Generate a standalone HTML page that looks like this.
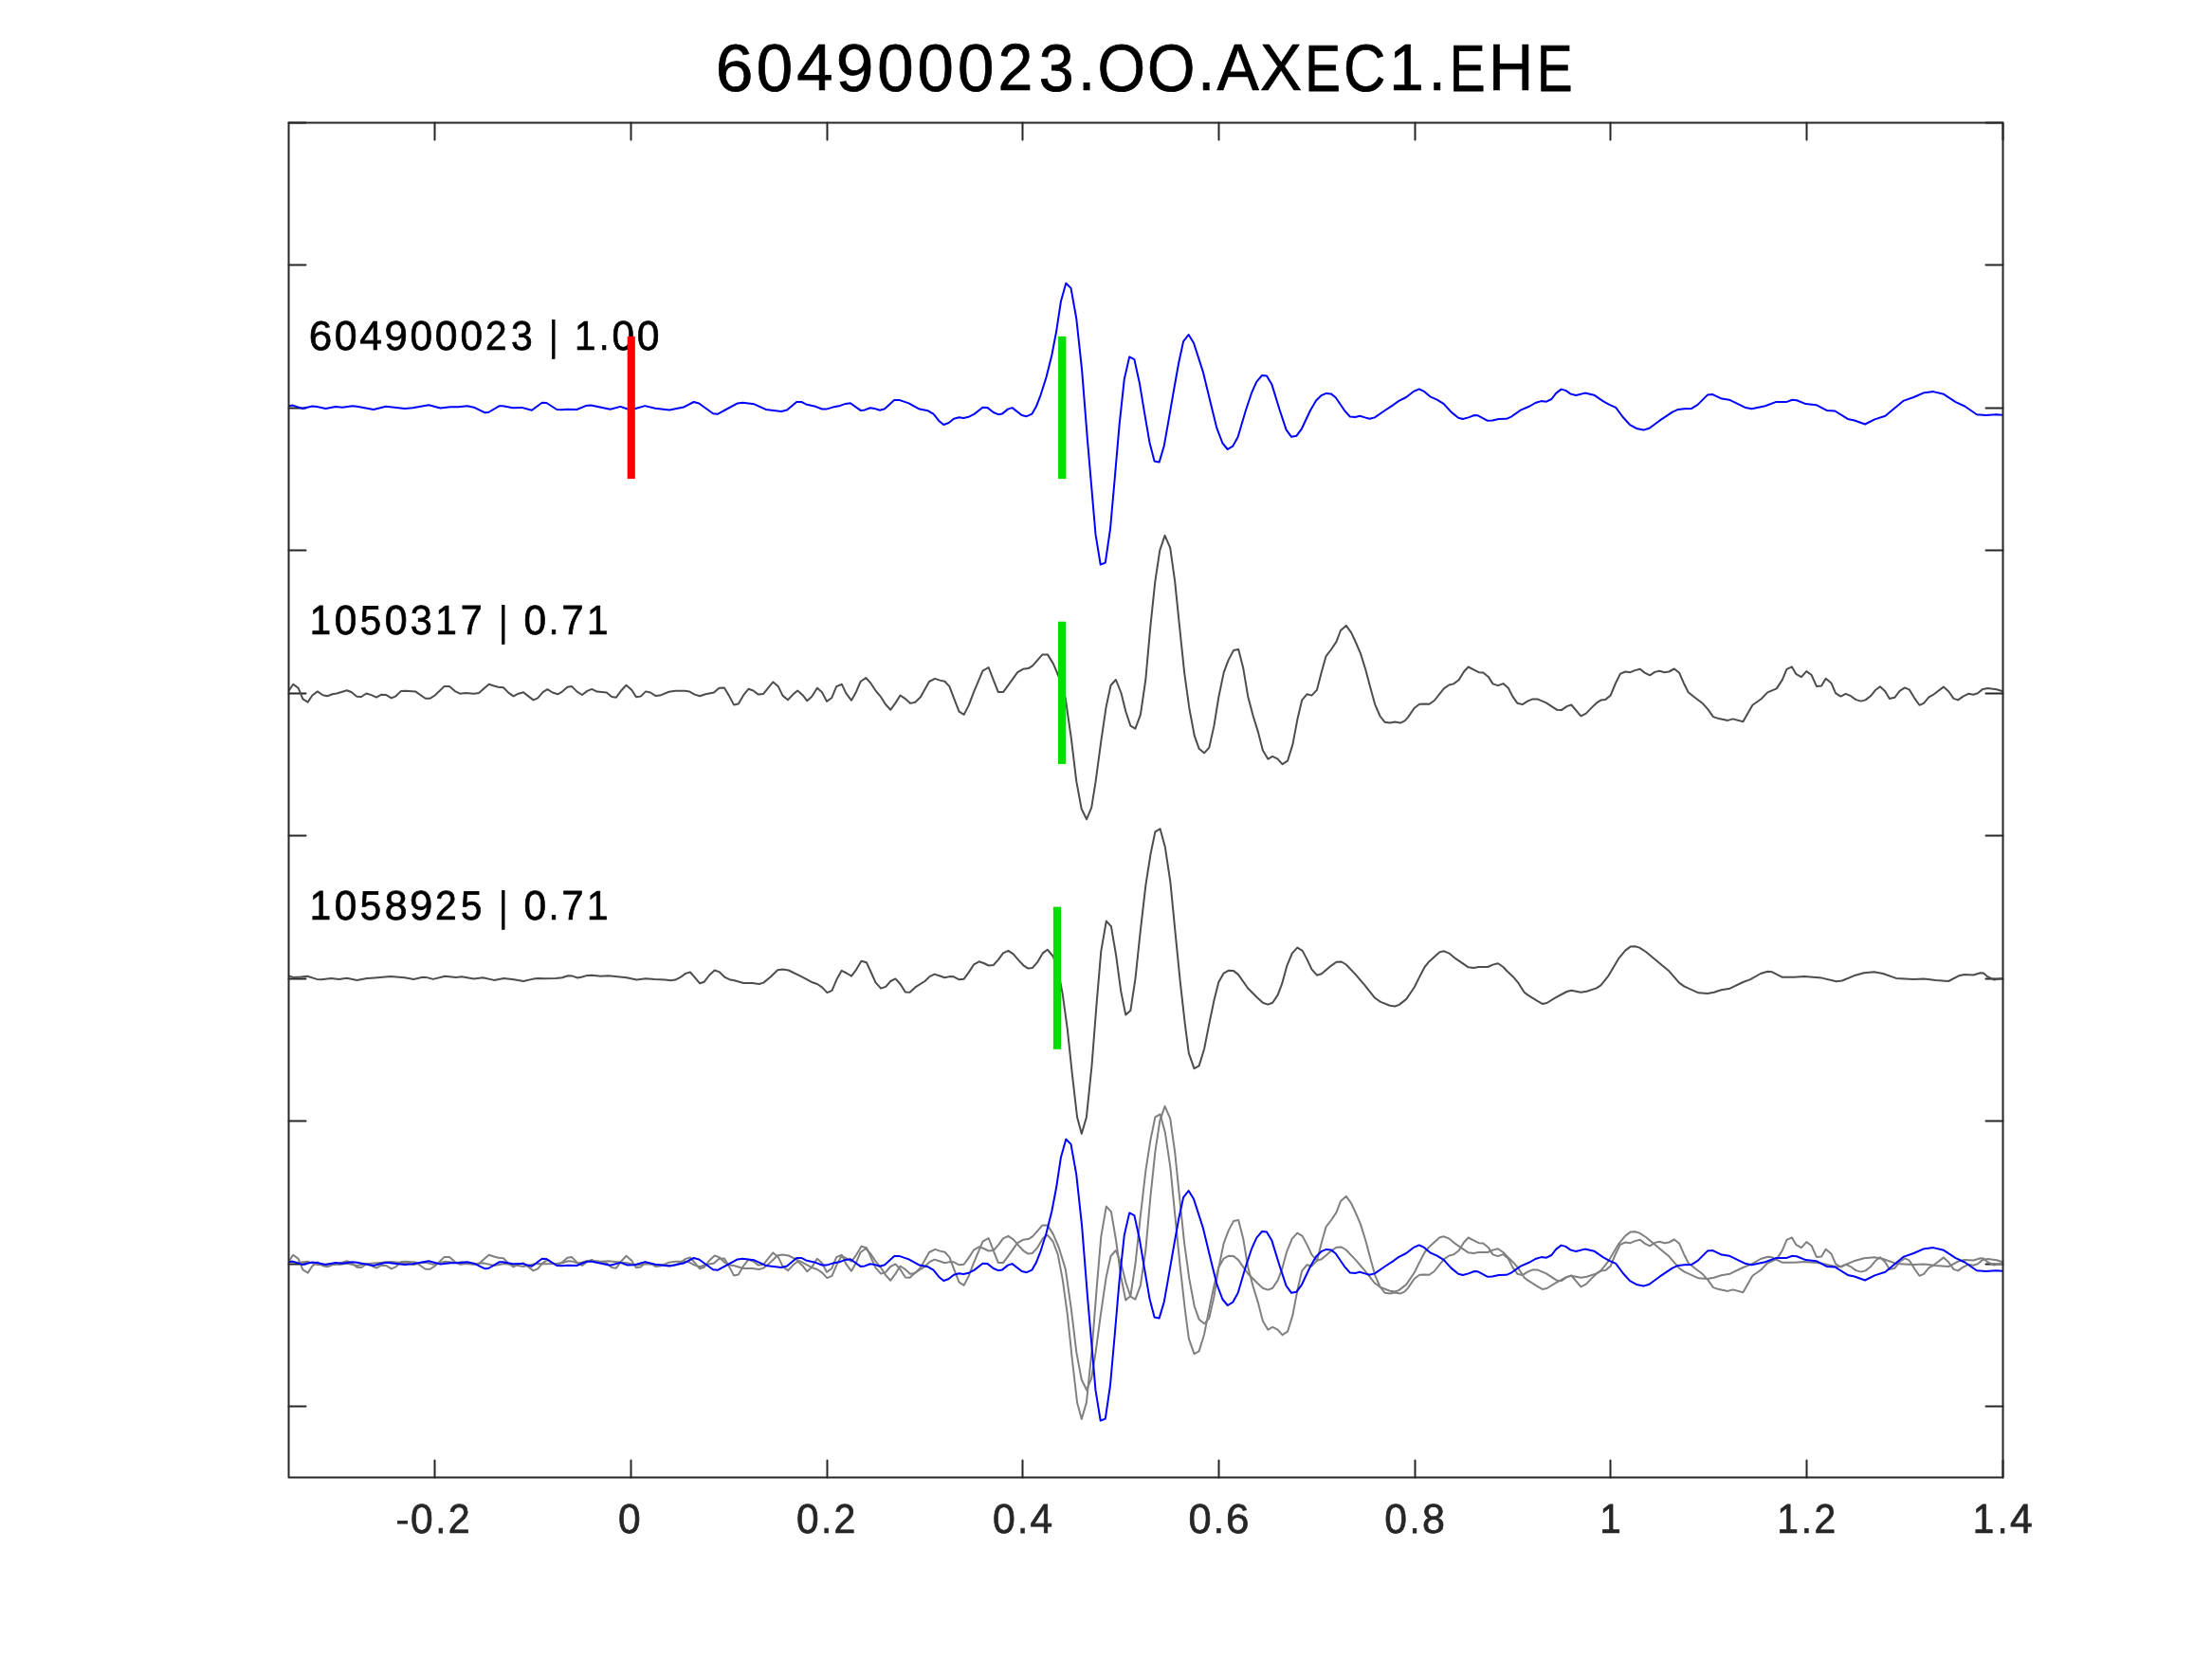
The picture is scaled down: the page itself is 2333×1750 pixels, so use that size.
<!DOCTYPE html><html><head><meta charset="utf-8"><style>html,body{margin:0;padding:0;background:#fff;width:2333px;height:1750px;overflow:hidden}text{font-family:"Liberation Sans",sans-serif}svg{will-change:transform}</style></head><body><svg width="2333" height="1750" viewBox="0 0 2333 1750" style="position:absolute;left:0;top:0">
<rect width="2333" height="1750" fill="#fff"/>
<g style="font-family:'Liberation Sans',sans-serif"><text text-rendering="geometricPrecision" transform="translate(754.69,96.00) scale(0.7138,0.7041)" font-size="100" fill="#000" stroke="#000" stroke-width="0.987">6</text><text text-rendering="geometricPrecision" transform="translate(797.74,96.00) scale(0.6900,0.7059)" font-size="100" fill="#000" stroke="#000" stroke-width="1.003">0</text><text text-rendering="geometricPrecision" transform="translate(840.30,95.20) scale(0.6878,0.6972)" font-size="100" fill="#000" stroke="#000" stroke-width="1.011">4</text><text text-rendering="geometricPrecision" transform="translate(881.63,96.02) scale(0.7142,0.7059)" font-size="100" fill="#000" stroke="#000" stroke-width="0.986">9</text><text text-rendering="geometricPrecision" transform="translate(925.13,96.00) scale(0.6891,0.7041)" font-size="100" fill="#000" stroke="#000" stroke-width="1.005">0</text><text text-rendering="geometricPrecision" transform="translate(967.42,96.00) scale(0.6897,0.7043)" font-size="100" fill="#000" stroke="#000" stroke-width="1.004">0</text><text text-rendering="geometricPrecision" transform="translate(1010.06,96.01) scale(0.6898,0.7058)" font-size="100" fill="#000" stroke="#000" stroke-width="1.003">0</text><text text-rendering="geometricPrecision" transform="translate(1052.38,95.20) scale(0.6618,0.6996)" font-size="100" fill="#000" stroke="#000" stroke-width="1.028">2</text><text text-rendering="geometricPrecision" transform="translate(1095.69,95.90) scale(0.6639,0.7026)" font-size="100" fill="#000" stroke="#000" stroke-width="1.024">3</text><text text-rendering="geometricPrecision" transform="translate(1136.90,95.22) scale(0.6503,0.7161)" font-size="100" fill="#000" stroke="#000" stroke-width="1.025">.</text><text text-rendering="geometricPrecision" transform="translate(1157.48,95.87) scale(0.6502,0.7022)" font-size="100" fill="#000" stroke="#000" stroke-width="1.035">O</text><text text-rendering="geometricPrecision" transform="translate(1210.05,95.88) scale(0.6499,0.7021)" font-size="100" fill="#000" stroke="#000" stroke-width="1.036">O</text><text text-rendering="geometricPrecision" transform="translate(1263.13,95.22) scale(0.6427,0.7175)" font-size="100" fill="#000" stroke="#000" stroke-width="1.029">.</text><text text-rendering="geometricPrecision" transform="translate(1283.45,95.20) scale(0.6645,0.6974)" font-size="100" fill="#000" stroke="#000" stroke-width="1.028">A</text><text text-rendering="geometricPrecision" transform="translate(1328.93,95.20) scale(0.6602,0.6973)" font-size="100" fill="#000" stroke="#000" stroke-width="1.031">X</text><text text-rendering="geometricPrecision" transform="translate(1376.37,95.73) scale(0.5655,0.6941)" font-size="100" fill="#000" stroke="#000" stroke-width="1.111">E</text><text text-rendering="geometricPrecision" transform="translate(1416.91,95.88) scale(0.6144,0.7024)" font-size="100" fill="#000" stroke="#000" stroke-width="1.063">C</text><text text-rendering="geometricPrecision" transform="translate(1465.30,95.20) scale(0.6557,0.6973)" font-size="100" fill="#000" stroke="#000" stroke-width="1.035">1</text><text text-rendering="geometricPrecision" transform="translate(1506.76,95.22) scale(0.6503,0.7161)" font-size="100" fill="#000" stroke="#000" stroke-width="1.025">.</text><text text-rendering="geometricPrecision" transform="translate(1528.71,95.73) scale(0.5669,0.6939)" font-size="100" fill="#000" stroke="#000" stroke-width="1.110">E</text><text text-rendering="geometricPrecision" transform="translate(1569.98,95.20) scale(0.6544,0.6973)" font-size="100" fill="#000" stroke="#000" stroke-width="1.036">H</text><text text-rendering="geometricPrecision" transform="translate(1621.00,95.73) scale(0.5636,0.6940)" font-size="100" fill="#000" stroke="#000" stroke-width="1.113">E</text><text text-rendering="geometricPrecision" transform="translate(325.80,368.66) scale(0.4400,0.4329)" font-size="100" fill="#000" stroke="#000" stroke-width="1.604">6</text><text text-rendering="geometricPrecision" transform="translate(352.76,368.66) scale(0.4275,0.4336)" font-size="100" fill="#000" stroke="#000" stroke-width="1.626">0</text><text text-rendering="geometricPrecision" transform="translate(379.14,368.50) scale(0.4268,0.4348)" font-size="100" fill="#000" stroke="#000" stroke-width="1.625">4</text><text text-rendering="geometricPrecision" transform="translate(405.38,368.66) scale(0.4385,0.4338)" font-size="100" fill="#000" stroke="#000" stroke-width="1.605">9</text><text text-rendering="geometricPrecision" transform="translate(432.48,368.69) scale(0.4246,0.4343)" font-size="100" fill="#000" stroke="#000" stroke-width="1.630">0</text><text text-rendering="geometricPrecision" transform="translate(458.87,368.66) scale(0.4271,0.4336)" font-size="100" fill="#000" stroke="#000" stroke-width="1.627">0</text><text text-rendering="geometricPrecision" transform="translate(485.38,368.67) scale(0.4252,0.4338)" font-size="100" fill="#000" stroke="#000" stroke-width="1.630">0</text><text text-rendering="geometricPrecision" transform="translate(512.03,368.50) scale(0.4056,0.4341)" font-size="100" fill="#000" stroke="#000" stroke-width="1.667">2</text><text text-rendering="geometricPrecision" transform="translate(538.96,368.68) scale(0.4091,0.4334)" font-size="100" fill="#000" stroke="#000" stroke-width="1.662">3</text><text text-rendering="geometricPrecision" transform="translate(579.33,368.59) scale(0.3436,0.4371)" font-size="100" fill="#000" stroke="#000" stroke-width="1.793">|</text><text text-rendering="geometricPrecision" transform="translate(606.04,368.50) scale(0.4031,0.4346)" font-size="100" fill="#000" stroke="#000" stroke-width="1.671">1</text><text text-rendering="geometricPrecision" transform="translate(631.93,368.52) scale(0.3729,0.4311)" font-size="100" fill="#000" stroke="#000" stroke-width="1.741">.</text><text text-rendering="geometricPrecision" transform="translate(645.48,368.69) scale(0.4246,0.4343)" font-size="100" fill="#000" stroke="#000" stroke-width="1.630">0</text><text text-rendering="geometricPrecision" transform="translate(671.86,368.66) scale(0.4271,0.4336)" font-size="100" fill="#000" stroke="#000" stroke-width="1.627">0</text><text text-rendering="geometricPrecision" transform="translate(326.80,669.20) scale(0.4025,0.4362)" font-size="100" fill="#000" stroke="#000" stroke-width="1.669">1</text><text text-rendering="geometricPrecision" transform="translate(352.74,669.37) scale(0.4241,0.4335)" font-size="100" fill="#000" stroke="#000" stroke-width="1.632">0</text><text text-rendering="geometricPrecision" transform="translate(379.63,669.37) scale(0.4024,0.4318)" font-size="100" fill="#000" stroke="#000" stroke-width="1.678">5</text><text text-rendering="geometricPrecision" transform="translate(405.71,669.36) scale(0.4298,0.4333)" font-size="100" fill="#000" stroke="#000" stroke-width="1.622">0</text><text text-rendering="geometricPrecision" transform="translate(432.73,669.39) scale(0.4150,0.4345)" font-size="100" fill="#000" stroke="#000" stroke-width="1.648">3</text><text text-rendering="geometricPrecision" transform="translate(459.26,669.20) scale(0.4065,0.4357)" font-size="100" fill="#000" stroke="#000" stroke-width="1.662">1</text><text text-rendering="geometricPrecision" transform="translate(485.68,669.20) scale(0.4138,0.4363)" font-size="100" fill="#000" stroke="#000" stroke-width="1.647">7</text><text text-rendering="geometricPrecision" transform="translate(526.30,670.30) scale(0.3452,0.4366)" font-size="100" fill="#000" stroke="#000" stroke-width="1.791">|</text><text text-rendering="geometricPrecision" transform="translate(552.54,669.38) scale(0.4248,0.4335)" font-size="100" fill="#000" stroke="#000" stroke-width="1.631">0</text><text text-rendering="geometricPrecision" transform="translate(578.81,669.24) scale(0.3813,0.4285)" font-size="100" fill="#000" stroke="#000" stroke-width="1.729">.</text><text text-rendering="geometricPrecision" transform="translate(592.46,669.20) scale(0.4138,0.4363)" font-size="100" fill="#000" stroke="#000" stroke-width="1.647">7</text><text text-rendering="geometricPrecision" transform="translate(618.93,669.20) scale(0.4065,0.4357)" font-size="100" fill="#000" stroke="#000" stroke-width="1.662">1</text><text text-rendering="geometricPrecision" transform="translate(326.80,970.20) scale(0.4025,0.4362)" font-size="100" fill="#000" stroke="#000" stroke-width="1.669">1</text><text text-rendering="geometricPrecision" transform="translate(352.74,970.37) scale(0.4241,0.4335)" font-size="100" fill="#000" stroke="#000" stroke-width="1.632">0</text><text text-rendering="geometricPrecision" transform="translate(379.63,970.37) scale(0.4024,0.4318)" font-size="100" fill="#000" stroke="#000" stroke-width="1.678">5</text><text text-rendering="geometricPrecision" transform="translate(405.70,970.38) scale(0.4297,0.4336)" font-size="100" fill="#000" stroke="#000" stroke-width="1.622">8</text><text text-rendering="geometricPrecision" transform="translate(431.88,970.38) scale(0.4371,0.4341)" font-size="100" fill="#000" stroke="#000" stroke-width="1.607">9</text><text text-rendering="geometricPrecision" transform="translate(458.88,970.21) scale(0.4085,0.4339)" font-size="100" fill="#000" stroke="#000" stroke-width="1.662">2</text><text text-rendering="geometricPrecision" transform="translate(485.90,970.37) scale(0.4024,0.4318)" font-size="100" fill="#000" stroke="#000" stroke-width="1.678">5</text><text text-rendering="geometricPrecision" transform="translate(526.30,971.30) scale(0.3452,0.4366)" font-size="100" fill="#000" stroke="#000" stroke-width="1.791">|</text><text text-rendering="geometricPrecision" transform="translate(552.54,970.38) scale(0.4248,0.4335)" font-size="100" fill="#000" stroke="#000" stroke-width="1.631">0</text><text text-rendering="geometricPrecision" transform="translate(578.81,970.24) scale(0.3813,0.4285)" font-size="100" fill="#000" stroke="#000" stroke-width="1.729">.</text><text text-rendering="geometricPrecision" transform="translate(592.46,970.20) scale(0.4138,0.4363)" font-size="100" fill="#000" stroke="#000" stroke-width="1.647">7</text><text text-rendering="geometricPrecision" transform="translate(618.93,970.20) scale(0.4065,0.4357)" font-size="100" fill="#000" stroke="#000" stroke-width="1.662">1</text><text text-rendering="geometricPrecision" transform="translate(417.40,1614.87) scale(0.4210,0.3466)" font-size="100" fill="#262626" stroke="#262626" stroke-width="1.824">-</text><text text-rendering="geometricPrecision" transform="translate(433.12,1616.88) scale(0.4252,0.4348)" font-size="100" fill="#262626" stroke="#262626" stroke-width="1.628">0</text><text text-rendering="geometricPrecision" transform="translate(459.46,1616.57) scale(0.3846,0.4442)" font-size="100" fill="#262626" stroke="#262626" stroke-width="1.689">.</text><text text-rendering="geometricPrecision" transform="translate(472.70,1616.56) scale(0.4124,0.4340)" font-size="100" fill="#262626" stroke="#262626" stroke-width="1.654">2</text><text text-rendering="geometricPrecision" transform="translate(652.02,1616.87) scale(0.4252,0.4350)" font-size="100" fill="#262626" stroke="#262626" stroke-width="1.628">0</text><text text-rendering="geometricPrecision" transform="translate(840.12,1616.87) scale(0.4252,0.4350)" font-size="100" fill="#262626" stroke="#262626" stroke-width="1.628">0</text><text text-rendering="geometricPrecision" transform="translate(866.31,1616.57) scale(0.3920,0.4459)" font-size="100" fill="#262626" stroke="#262626" stroke-width="1.671">.</text><text text-rendering="geometricPrecision" transform="translate(879.51,1616.56) scale(0.4100,0.4343)" font-size="100" fill="#262626" stroke="#262626" stroke-width="1.658">2</text><text text-rendering="geometricPrecision" transform="translate(1046.98,1616.86) scale(0.4282,0.4347)" font-size="100" fill="#262626" stroke="#262626" stroke-width="1.622">0</text><text text-rendering="geometricPrecision" transform="translate(1073.34,1616.57) scale(0.3853,0.4466)" font-size="100" fill="#262626" stroke="#262626" stroke-width="1.683">.</text><text text-rendering="geometricPrecision" transform="translate(1086.56,1616.56) scale(0.4248,0.4361)" font-size="100" fill="#262626" stroke="#262626" stroke-width="1.626">4</text><text text-rendering="geometricPrecision" transform="translate(1253.45,1616.86) scale(0.4336,0.4345)" font-size="100" fill="#262626" stroke="#262626" stroke-width="1.613">0</text><text text-rendering="geometricPrecision" transform="translate(1279.72,1616.57) scale(0.4002,0.4435)" font-size="100" fill="#262626" stroke="#262626" stroke-width="1.659">.</text><text text-rendering="geometricPrecision" transform="translate(1292.91,1616.87) scale(0.4417,0.4350)" font-size="100" fill="#262626" stroke="#262626" stroke-width="1.597">6</text><text text-rendering="geometricPrecision" transform="translate(1460.37,1616.87) scale(0.4262,0.4345)" font-size="100" fill="#262626" stroke="#262626" stroke-width="1.627">0</text><text text-rendering="geometricPrecision" transform="translate(1486.83,1616.57) scale(0.3835,0.4438)" font-size="100" fill="#262626" stroke="#262626" stroke-width="1.692">.</text><text text-rendering="geometricPrecision" transform="translate(1499.88,1616.90) scale(0.4303,0.4355)" font-size="100" fill="#262626" stroke="#262626" stroke-width="1.617">8</text><text text-rendering="geometricPrecision" transform="translate(1687.24,1616.56) scale(0.4049,0.4361)" font-size="100" fill="#262626" stroke="#262626" stroke-width="1.664">1</text><text text-rendering="geometricPrecision" transform="translate(1874.16,1616.56) scale(0.4078,0.4361)" font-size="100" fill="#262626" stroke="#262626" stroke-width="1.659">1</text><text text-rendering="geometricPrecision" transform="translate(1899.86,1616.57) scale(0.4009,0.4438)" font-size="100" fill="#262626" stroke="#262626" stroke-width="1.657">.</text><text text-rendering="geometricPrecision" transform="translate(1913.50,1616.56) scale(0.4078,0.4337)" font-size="100" fill="#262626" stroke="#262626" stroke-width="1.664">2</text><text text-rendering="geometricPrecision" transform="translate(2080.80,1616.56) scale(0.4040,0.4361)" font-size="100" fill="#262626" stroke="#262626" stroke-width="1.666">1</text><text text-rendering="geometricPrecision" transform="translate(2106.79,1616.57) scale(0.3835,0.4438)" font-size="100" fill="#262626" stroke="#262626" stroke-width="1.692">.</text><text text-rendering="geometricPrecision" transform="translate(2120.11,1616.56) scale(0.4248,0.4363)" font-size="100" fill="#262626" stroke="#262626" stroke-width="1.626">4</text></g>
<path d="M458.50,1558.5V1540.5M458.50,129.5V147.5M665.50,1558.5V1540.5M665.50,129.5V147.5M872.50,1558.5V1540.5M872.50,129.5V147.5M1078.50,1558.5V1540.5M1078.50,129.5V147.5M1285.50,1558.5V1540.5M1285.50,129.5V147.5M1492.50,1558.5V1540.5M1492.50,129.5V147.5M1698.50,1558.5V1540.5M1698.50,129.5V147.5M1905.50,1558.5V1540.5M1905.50,129.5V147.5M2112.50,1558.5V1540.5M2112.50,129.5V147.5M304.5,129.50H322.5M2112.5,129.50H2094.5M304.5,279.50H322.5M2112.5,279.50H2094.5M304.5,430.50H322.5M2112.5,430.50H2094.5M304.5,580.50H322.5M2112.5,580.50H2094.5M304.5,731.50H322.5M2112.5,731.50H2094.5M304.5,881.50H322.5M2112.5,881.50H2094.5M304.5,1032.50H322.5M2112.5,1032.50H2094.5M304.5,1182.50H322.5M2112.5,1182.50H2094.5M304.5,1333.50H322.5M2112.5,1333.50H2094.5M304.5,1483.50H322.5M2112.5,1483.50H2094.5" stroke="#262626" stroke-width="2" fill="none" stroke-linecap="round"/>
<polyline points="304.5,1330.4 309.4,1331.9 317.6,1331.6 324.1,1330.7 334.1,1333.9 338.8,1334.2 349.4,1333.1 357.6,1333.9 365.8,1332.7 376.4,1334.9 387.0,1333.1 395.2,1332.4 411.7,1331.0 426.9,1332.2 436.3,1333.9 445.7,1331.8 449.3,1331.9 456.9,1333.9 469.3,1330.7 481.0,1331.9 486.9,1331.3 499.8,1333.6 509.2,1332.2 521.0,1334.9 531.5,1333.1 542.1,1334.2 552.1,1336.0 562.5,1333.6 567.9,1332.9 574.0,1333.3 586.2,1333.1 593.0,1332.2 599.1,1330.2 603.8,1330.6 609.3,1332.5 614.0,1331.5 619.4,1329.9 624.2,1329.8 633.7,1330.8 641.8,1330.2 660.8,1332.2 671.6,1334.5 681.1,1333.3 690.6,1334.0 701.5,1334.5 707.6,1335.2 712.3,1334.6 717.1,1332.2 723.2,1327.9 727.9,1326.5 732.7,1331.9 738.1,1338.3 742.8,1336.7 748.3,1329.5 753.7,1324.5 758.4,1326.1 764.6,1331.9 769.3,1334.2 774.7,1335.3 784.2,1338.0 793.7,1337.9 800.5,1339.0 805.2,1337.6 812.7,1331.5 820.2,1324.3 825.6,1323.4 831.7,1324.5 845.2,1331.2 850.0,1333.7 856.8,1337.3 861.9,1339.0 867.0,1342.4 872.4,1348.1 877.5,1345.8 882.8,1333.4 887.6,1324.9 892.9,1327.5 898.0,1330.6 903.1,1323.8 908.5,1314.7 913.9,1316.2 918.4,1326.0 923.5,1337.3 929.1,1343.6 934.2,1341.9 939.3,1336.0 944.4,1333.4 949.5,1339.0 954.9,1347.5 959.6,1347.8 965.3,1342.4 975.5,1336.0 980.5,1331.1 985.6,1328.6 990.7,1330.3 996.4,1332.3 1001.4,1331.1 1006.0,1331.3 1011.6,1334.3 1016.7,1333.7 1021.8,1326.6 1026.9,1318.7 1032.5,1315.3 1037.6,1317.0 1042.7,1319.5 1047.8,1319.0 1052.9,1313.4 1058.0,1306.3 1063.4,1303.8 1068.7,1307.4 1074.3,1313.9 1079.4,1319.3 1084.0,1322.4 1089.0,1321.9 1094.5,1315.6 1099.8,1306.4 1104.7,1302.7 1110.5,1309.5 1115.6,1322.8 1120.7,1349.4 1125.8,1386.3 1131.0,1435.5 1136.1,1479.5 1140.8,1496.9 1145.9,1479.5 1151.5,1425.2 1156.6,1359.7 1161.3,1304.4 1166.8,1272.6 1171.9,1278.2 1177.1,1308.5 1182.2,1346.4 1187.3,1371.6 1192.4,1366.9 1197.5,1333.1 1202.7,1283.9 1208.4,1234.7 1213.5,1202.0 1218.4,1178.4 1223.6,1175.3 1228.9,1194.8 1234.4,1231.7 1239.5,1283.9 1244.6,1335.1 1249.8,1381.2 1253.8,1411.9 1259.5,1428.1 1264.6,1425.4 1270.1,1407.5 1275.0,1382.6 1280.4,1356.5 1285.3,1337.0 1290.7,1327.6 1296.1,1324.7 1301.0,1325.1 1305.9,1328.9 1316.2,1343.5 1325.9,1353.3 1331.9,1358.7 1337.3,1360.6 1342.2,1358.7 1347.6,1350.6 1352.0,1339.2 1357.4,1319.6 1362.8,1306.6 1368.3,1300.6 1373.7,1303.9 1378.6,1313.1 1383.4,1323.4 1388.9,1329.7 1393.8,1328.3 1404.1,1319.6 1409.5,1315.8 1414.9,1315.5 1419.8,1318.5 1430.1,1329.4 1439.9,1340.8 1450.2,1353.8 1456.1,1357.9 1465.9,1361.7 1471.3,1362.5 1475.7,1360.9 1483.3,1354.9 1491.8,1342.3 1497.2,1331.4 1502.6,1321.0 1507.4,1315.2 1518.2,1305.4 1523.0,1304.3 1528.4,1306.6 1535.2,1312.2 1548.7,1321.3 1554.2,1321.9 1559.6,1321.0 1569.1,1321.0 1574.5,1318.6 1579.9,1317.2 1585.4,1321.0 1589.4,1325.3 1596.2,1331.7 1601.6,1338.2 1607.7,1347.7 1611.1,1350.4 1620.6,1356.3 1626.7,1359.9 1631.5,1359.0 1641.0,1353.1 1652.5,1347.0 1657.3,1345.7 1667.4,1347.7 1673.5,1346.8 1683.7,1343.4 1688.4,1340.3 1696.6,1330.1 1707.4,1311.8 1714.2,1303.6 1719.6,1299.6 1724.4,1299.3 1729.1,1300.6 1735.9,1305.0 1748.8,1315.8 1759.7,1324.7 1771.2,1337.9 1776.6,1341.6 1791.5,1348.3 1800.8,1349.0 1807.7,1347.8 1815.4,1345.2 1824.6,1343.7 1838.4,1337.0 1846.1,1334.1 1856.9,1328.0 1864.5,1325.7 1869.1,1326.3 1879.9,1331.8 1892.2,1331.8 1903.0,1330.9 1921.4,1332.6 1936.8,1336.3 1942.9,1335.5 1955.2,1330.3 1966.0,1327.2 1976.7,1326.3 1986.0,1328.0 1999.8,1332.9 2018.2,1334.1 2029.0,1333.4 2041.3,1334.9 2055.1,1336.0 2065.9,1330.3 2072.0,1329.1 2081.3,1329.5 2088.9,1327.2 2092.0,1327.5 2096.6,1331.4 2102.8,1334.4 2112.3,1332.9" stroke="#808080" stroke-width="2" fill="none" stroke-linejoin="round"/>
<polyline points="304.5,1330.8 309.2,1323.7 314.7,1327.9 319.4,1339.4 324.7,1342.6 329.4,1335.5 334.9,1331.4 340.5,1335.3 345.3,1336.3 350.5,1334.3 355.2,1333.5 365.8,1330.2 370.5,1332.0 376.4,1336.7 381.1,1337.0 386.4,1333.5 391.7,1335.1 397.0,1337.6 402.3,1334.7 407.0,1334.9 412.8,1338.4 417.5,1336.3 422.8,1331.1 428.1,1330.8 438.1,1331.4 448.7,1338.8 453.4,1338.8 458.7,1335.5 468.7,1325.9 474.0,1325.9 479.8,1331.1 485.1,1333.7 491.0,1333.1 499.8,1333.7 505.1,1332.9 515.7,1323.7 521.0,1325.5 525.7,1326.7 531.0,1327.3 536.2,1332.6 541.5,1336.4 546.8,1333.7 552.1,1332.3 555.0,1334.6 562.5,1340.4 567.2,1338.3 572.6,1332.1 577.4,1329.1 582.8,1332.5 588.2,1334.3 593.0,1331.6 598.4,1326.8 603.1,1326.1 608.6,1331.6 614.0,1335.0 619.4,1330.9 624.2,1328.9 629.6,1331.6 639.8,1332.5 645.2,1337.0 649.9,1337.7 655.4,1330.2 660.5,1324.8 666.2,1329.8 671.0,1337.3 675.7,1336.6 681.1,1331.4 685.9,1332.5 691.3,1335.9 696.1,1335.6 705.5,1331.8 712.3,1330.8 722.5,1330.8 727.3,1331.6 732.7,1334.6 738.1,1336.2 744.2,1334.3 753.0,1332.5 758.4,1327.8 763.9,1327.5 769.3,1336.6 774.0,1345.4 778.8,1344.5 784.2,1335.2 789.6,1328.7 794.4,1330.5 799.8,1334.6 805.2,1333.9 810.0,1327.8 815.4,1321.4 820.8,1326.1 825.6,1335.9 831.0,1340.2 836.4,1334.6 841.2,1330.5 846.6,1335.2 851.3,1341.3 856.2,1336.8 861.9,1327.8 867.0,1332.3 872.0,1341.9 877.1,1338.3 882.2,1326.1 887.9,1323.8 892.4,1333.4 898.0,1340.8 903.1,1331.7 907.6,1321.0 913.3,1317.0 918.4,1322.7 924.0,1331.2 929.1,1337.2 934.2,1345.3 939.3,1350.7 944.4,1343.6 949.5,1335.5 954.5,1338.8 960.2,1343.9 965.3,1342.7 970.9,1337.2 980.0,1321.0 986.2,1317.9 991.3,1319.6 996.4,1320.8 1001.4,1326.1 1006.5,1339.6 1011.6,1352.6 1016.7,1355.8 1021.8,1345.9 1026.9,1332.3 1036.5,1309.7 1042.7,1306.0 1047.8,1319.3 1052.9,1332.1 1058.0,1332.1 1063.0,1325.3 1073.2,1311.2 1078.9,1307.8 1084.5,1307.1 1089.0,1304.4 1099.5,1292.4 1104.9,1292.4 1110.9,1302.1 1116.8,1316.0 1123.8,1338.9 1129.8,1380.7 1135.3,1426.4 1140.7,1455.2 1146.1,1466.2 1151.2,1453.8 1155.6,1426.4 1161.2,1384.6 1166.6,1347.9 1171.5,1325.0 1176.9,1319.0 1182.5,1333.0 1187.4,1352.8 1192.4,1367.7 1197.4,1370.7 1202.9,1355.8 1208.3,1319.0 1213.3,1263.4 1218.3,1215.6 1223.2,1182.8 1228.6,1166.9 1234.2,1179.8 1239.1,1214.6 1244.1,1263.4 1249.1,1311.1 1254.3,1348.9 1259.8,1378.2 1264.6,1391.7 1270.1,1396.3 1275.3,1390.6 1280.4,1367.9 1285.3,1337.5 1290.7,1311.4 1295.6,1298.4 1301.0,1288.1 1306.2,1287.0 1311.3,1307.1 1316.2,1336.4 1321.6,1357.0 1327.0,1374.4 1331.9,1393.4 1337.3,1402.6 1342.2,1399.9 1347.6,1402.6 1352.5,1408.2 1358.0,1404.7 1363.4,1387.4 1368.3,1361.3 1373.1,1340.7 1378.6,1334.2 1383.4,1335.6 1388.9,1329.9 1393.8,1310.9 1398.6,1294.1 1404.1,1287.0 1409.5,1278.9 1414.0,1267.0 1419.8,1261.9 1425.2,1269.4 1430.1,1280.0 1435.0,1291.4 1440.4,1308.7 1445.3,1327.2 1450.2,1345.1 1455.6,1357.5 1460.5,1363.7 1465.9,1364.6 1471.3,1363.5 1476.8,1364.6 1481.6,1362.4 1485.0,1358.6 1491.8,1348.7 1497.2,1344.8 1502.6,1344.4 1507.4,1344.8 1512.8,1341.0 1523.0,1328.1 1528.4,1324.5 1533.1,1323.4 1538.6,1319.3 1544.0,1310.5 1548.7,1305.5 1554.2,1308.4 1559.6,1311.2 1564.3,1311.4 1569.8,1315.9 1574.5,1323.4 1579.9,1325.1 1585.4,1323.1 1590.8,1327.8 1595.5,1336.9 1600.3,1343.7 1605.7,1345.1 1611.1,1341.7 1616.6,1339.4 1622.0,1339.6 1630.8,1343.3 1642.3,1350.8 1647.1,1350.9 1652.5,1347.1 1657.3,1345.5 1667.4,1357.3 1672.8,1354.6 1678.3,1348.9 1683.7,1343.7 1688.4,1340.6 1693.2,1340.0 1698.6,1335.6 1703.4,1324.0 1708.8,1312.9 1714.2,1310.5 1719.6,1311.2 1724.4,1309.1 1729.8,1307.8 1734.6,1311.6 1740.0,1314.3 1745.4,1310.9 1750.2,1309.8 1755.6,1311.2 1760.3,1310.5 1765.8,1307.5 1771.2,1311.8 1775.9,1322.7 1780.7,1332.2 1786.9,1337.3 1796.1,1344.3 1801.5,1350.4 1806.9,1358.1 1813.0,1360.1 1822.3,1361.9 1827.6,1360.4 1838.4,1363.2 1848.4,1345.8 1857.6,1339.3 1864.2,1332.4 1873.8,1328.4 1879.9,1318.9 1884.5,1307.8 1889.9,1305.4 1894.5,1313.2 1899.9,1316.1 1905.3,1310.1 1910.6,1314.0 1916.0,1326.1 1921.1,1325.5 1925.7,1317.7 1931.4,1322.4 1936.0,1333.2 1941.4,1336.6 1946.8,1333.8 1951.4,1335.8 1957.5,1340.1 1962.9,1341.6 1967.5,1340.4 1972.9,1336.3 1978.3,1329.7 1982.9,1326.3 1988.3,1331.2 1992.9,1338.9 1998.3,1337.8 2003.6,1330.9 2009.0,1327.4 2013.6,1329.3 2019.0,1338.1 2024.4,1345.8 2029.0,1343.8 2034.4,1337.3 2039.8,1334.3 2049.8,1326.6 2055.1,1331.2 2060.5,1338.9 2065.1,1340.4 2070.5,1336.6 2075.9,1333.8 2081.3,1334.7 2085.9,1333.2 2091.3,1328.9 2096.6,1328.1 2105.9,1329.2 2112.3,1331.2" stroke="#808080" stroke-width="2" fill="none" stroke-linejoin="round"/>
<polyline points="304.5,1331.3 308.8,1330.6 318.8,1333.9 329.4,1331.5 334.1,1332.1 343.5,1333.9 354.1,1332.1 361.1,1332.7 371.7,1331.2 376.4,1331.7 394.0,1335.0 407.0,1331.7 426.9,1334.1 435.2,1333.3 452.2,1330.3 464.5,1333.5 475.1,1332.3 483.4,1332.3 492.8,1331.2 499.8,1332.7 511.6,1338.3 515.1,1338.0 526.8,1331.2 530.4,1331.2 540.9,1333.3 550.3,1332.9 560.9,1335.8 571.7,1327.7 576.4,1328.0 587.3,1335.0 592.0,1335.3 598.8,1334.7 608.3,1335.0 617.8,1331.1 623.2,1330.4 643.6,1334.7 654.4,1331.9 661.9,1334.5 669.4,1334.2 680.2,1331.1 691.1,1333.7 706.0,1335.6 720.9,1332.6 731.7,1327.0 737.2,1328.5 752.1,1339.2 756.8,1339.8 777.9,1328.4 783.3,1327.7 795.5,1329.3 807.7,1334.9 824.0,1336.9 830.1,1335.6 840.2,1327.1 845.7,1327.1 850.0,1329.4 859.0,1331.4 867.0,1334.5 871.5,1334.6 878.3,1332.6 886.2,1330.9 891.8,1328.9 896.9,1328.3 907.6,1335.9 912.2,1335.4 917.8,1333.3 922.3,1333.9 928.0,1335.7 933.1,1334.3 943.2,1325.0 948.3,1324.9 958.5,1328.4 969.8,1334.6 978.8,1336.3 984.5,1339.7 990.1,1346.7 995.2,1351.0 1000.3,1349.2 1006.0,1344.8 1011.6,1343.3 1016.1,1343.9 1021.8,1342.7 1027.4,1339.9 1036.5,1332.8 1041.6,1333.1 1047.8,1338.0 1052.9,1340.2 1056.8,1339.6 1063.0,1334.6 1067.6,1333.1 1077.7,1341.0 1082.8,1342.2 1088.5,1339.6 1092.9,1331.8 1097.7,1319.3 1103.5,1301.0 1109.3,1277.8 1114.1,1252.8 1118.9,1221.0 1124.3,1201.7 1129.5,1206.9 1135.3,1239.3 1141.1,1293.2 1146.9,1366.5 1152.7,1434.0 1155.5,1466.7 1160.7,1498.5 1165.8,1496.6 1171.0,1461.0 1175.8,1407.0 1180.6,1351.1 1185.8,1302.9 1191.2,1279.4 1196.4,1282.1 1201.8,1306.7 1206.6,1335.6 1212.4,1369.4 1217.6,1389.6 1222.6,1390.6 1227.8,1373.2 1232.7,1345.3 1238.4,1312.5 1243.3,1285.3 1248.1,1263.1 1253.6,1256.0 1259.0,1264.7 1268.8,1295.1 1278.0,1333.1 1283.4,1354.7 1289.4,1370.5 1294.8,1377.0 1300.2,1373.7 1305.6,1364.0 1313.8,1336.3 1320.3,1316.8 1325.2,1305.9 1331.1,1298.9 1336.0,1299.4 1341.4,1308.6 1349.6,1335.2 1356.6,1356.4 1362.1,1363.8 1367.5,1362.7 1372.9,1355.3 1382.1,1335.8 1388.1,1325.5 1393.5,1320.2 1398.9,1317.9 1403.8,1318.4 1408.7,1322.2 1417.9,1335.8 1423.9,1342.6 1429.3,1343.0 1434.2,1341.7 1439.6,1343.4 1444.5,1344.8 1449.9,1343.4 1460.2,1336.3 1470.0,1329.8 1475.0,1326.1 1483.1,1322.0 1490.6,1316.2 1496.7,1313.4 1502.1,1315.9 1508.9,1321.7 1515.7,1324.7 1522.5,1328.8 1530.6,1337.6 1538.1,1343.7 1542.8,1345.0 1548.9,1343.4 1555.0,1341.0 1558.4,1341.2 1568.6,1346.7 1574.0,1346.4 1580.8,1345.0 1588.9,1344.8 1594.4,1342.3 1603.8,1335.6 1613.3,1331.5 1620.1,1327.7 1625.5,1326.1 1631.0,1326.7 1636.4,1324.0 1641.1,1317.9 1646.6,1313.6 1651.3,1314.9 1656.7,1318.6 1662.2,1320.0 1671.7,1317.6 1681.2,1319.7 1690.7,1326.1 1697.4,1329.9 1704.2,1332.8 1711.7,1343.0 1719.1,1351.1 1725.9,1354.9 1733.4,1356.6 1739.5,1354.8 1750.4,1346.7 1763.9,1337.6 1770.0,1334.9 1776.3,1334.3 1784.2,1333.9 1790.6,1329.9 1800.9,1319.6 1806.4,1319.1 1815.9,1323.6 1823.8,1324.7 1841.2,1333.1 1847.5,1334.3 1861.8,1331.2 1872.8,1327.1 1883.9,1327.1 1890.3,1324.8 1895.0,1325.2 1904.5,1329.1 1915.6,1330.2 1926.6,1335.9 1935.3,1336.5 1948.8,1344.9 1955.9,1346.5 1967.0,1350.5 1977.3,1345.4 1988.4,1341.8 2007.3,1325.9 2018.4,1322.0 2029.5,1317.2 2039.0,1316.1 2050.1,1318.8 2062.7,1327.1 2072.2,1331.5 2084.9,1340.2 2094.4,1341.0 2105.4,1340.2 2112.1,1340.7" stroke="#0000ff" stroke-width="2" fill="none" stroke-linejoin="round"/>
<polyline points="304.5,428.3 308.8,427.6 318.8,430.9 329.4,428.5 334.1,429.1 343.5,430.9 354.1,429.1 361.1,429.7 371.7,428.2 376.4,428.7 394.0,432.0 407.0,428.7 426.9,431.1 435.2,430.3 452.2,427.3 464.5,430.5 475.1,429.3 483.4,429.3 492.8,428.2 499.8,429.7 511.6,435.3 515.1,435.0 526.8,428.2 530.4,428.2 540.9,430.3 550.3,429.9 560.9,432.8 571.7,424.7 576.4,425.0 587.3,432.0 592.0,432.3 598.8,431.7 608.3,432.0 617.8,428.1 623.2,427.4 643.6,431.7 654.4,428.9 661.9,431.5 669.4,431.2 680.2,428.1 691.1,430.7 706.0,432.6 720.9,429.6 731.7,424.0 737.2,425.5 752.1,436.2 756.8,436.8 777.9,425.4 783.3,424.7 795.5,426.3 807.7,431.9 824.0,433.9 830.1,432.6 840.2,424.1 845.7,424.1 850.0,426.4 859.0,428.4 867.0,431.5 871.5,431.6 878.3,429.6 886.2,427.9 891.8,425.9 896.9,425.3 907.6,432.9 912.2,432.4 917.8,430.3 922.3,430.9 928.0,432.7 933.1,431.3 943.2,422.0 948.3,421.9 958.5,425.4 969.8,431.6 978.8,433.3 984.5,436.7 990.1,443.7 995.2,448.0 1000.3,446.2 1006.0,441.8 1011.6,440.3 1016.1,440.9 1021.8,439.7 1027.4,436.9 1036.5,429.8 1041.6,430.1 1047.8,435.0 1052.9,437.2 1056.8,436.6 1063.0,431.6 1067.6,430.1 1077.7,438.0 1082.8,439.2 1088.5,436.6 1092.9,428.8 1097.7,416.3 1103.5,398.0 1109.3,374.8 1114.1,349.8 1118.9,318.0 1124.3,298.7 1129.5,303.9 1135.3,336.3 1141.1,390.2 1146.9,463.5 1152.7,531.0 1155.5,563.7 1160.7,595.5 1165.8,593.6 1171.0,558.0 1175.8,504.0 1180.6,448.1 1185.8,399.9 1191.2,376.4 1196.4,379.1 1201.8,403.7 1206.6,432.6 1212.4,466.4 1217.6,486.6 1222.6,487.6 1227.8,470.2 1232.7,442.3 1238.4,409.5 1243.3,382.3 1248.1,360.1 1253.6,353.0 1259.0,361.7 1268.8,392.1 1278.0,430.1 1283.4,451.7 1289.4,467.5 1294.8,474.0 1300.2,470.7 1305.6,461.0 1313.8,433.3 1320.3,413.8 1325.2,402.9 1331.1,395.9 1336.0,396.4 1341.4,405.6 1349.6,432.2 1356.6,453.4 1362.1,460.8 1367.5,459.7 1372.9,452.3 1382.1,432.8 1388.1,422.5 1393.5,417.2 1398.9,414.9 1403.8,415.4 1408.7,419.2 1417.9,432.8 1423.9,439.6 1429.3,440.0 1434.2,438.7 1439.6,440.4 1444.5,441.8 1449.9,440.4 1460.2,433.3 1470.0,426.8 1475.0,423.1 1483.1,419.0 1490.6,413.2 1496.7,410.4 1502.1,412.9 1508.9,418.7 1515.7,421.7 1522.5,425.8 1530.6,434.6 1538.1,440.7 1542.8,442.0 1548.9,440.4 1555.0,438.0 1558.4,438.2 1568.6,443.7 1574.0,443.4 1580.8,442.0 1588.9,441.8 1594.4,439.3 1603.8,432.6 1613.3,428.5 1620.1,424.7 1625.5,423.1 1631.0,423.7 1636.4,421.0 1641.1,414.9 1646.6,410.6 1651.3,411.9 1656.7,415.6 1662.2,417.0 1671.7,414.6 1681.2,416.7 1690.7,423.1 1697.4,426.9 1704.2,429.8 1711.7,440.0 1719.1,448.1 1725.9,451.9 1733.4,453.6 1739.5,451.8 1750.4,443.7 1763.9,434.6 1770.0,431.9 1776.3,431.3 1784.2,430.9 1790.6,426.9 1800.9,416.6 1806.4,416.1 1815.9,420.6 1823.8,421.7 1841.2,430.1 1847.5,431.3 1861.8,428.2 1872.8,424.1 1883.9,424.1 1890.3,421.8 1895.0,422.2 1904.5,426.1 1915.6,427.2 1926.6,432.9 1935.3,433.5 1948.8,441.9 1955.9,443.5 1967.0,447.5 1977.3,442.4 1988.4,438.8 2007.3,422.9 2018.4,419.0 2029.5,414.2 2039.0,413.1 2050.1,415.8 2062.7,424.1 2072.2,428.5 2084.9,437.2 2094.4,438.0 2105.4,437.2 2112.1,437.7" stroke="#0000ff" stroke-width="2" fill="none" stroke-linejoin="round"/>
<polyline points="304.5,728.8 309.2,721.7 314.7,725.9 319.4,737.4 324.7,740.6 329.4,733.5 334.9,729.4 340.5,733.3 345.3,734.3 350.5,732.3 355.2,731.5 365.8,728.2 370.5,730.0 376.4,734.7 381.1,735.0 386.4,731.5 391.7,733.1 397.0,735.6 402.3,732.7 407.0,732.9 412.8,736.4 417.5,734.3 422.8,729.1 428.1,728.8 438.1,729.4 448.7,736.8 453.4,736.8 458.7,733.5 468.7,723.9 474.0,723.9 479.8,729.1 485.1,731.7 491.0,731.1 499.8,731.7 505.1,730.9 515.7,721.7 521.0,723.5 525.7,724.7 531.0,725.3 536.2,730.6 541.5,734.4 546.8,731.7 552.1,730.3 555.0,732.6 562.5,738.4 567.2,736.3 572.6,730.1 577.4,727.1 582.8,730.5 588.2,732.3 593.0,729.6 598.4,724.8 603.1,724.1 608.6,729.6 614.0,733.0 619.4,728.9 624.2,726.9 629.6,729.6 639.8,730.5 645.2,735.0 649.9,735.7 655.4,728.2 660.5,722.8 666.2,727.8 671.0,735.3 675.7,734.6 681.1,729.4 685.9,730.5 691.3,733.9 696.1,733.6 705.5,729.8 712.3,728.8 722.5,728.8 727.3,729.6 732.7,732.6 738.1,734.2 744.2,732.3 753.0,730.5 758.4,725.8 763.9,725.5 769.3,734.6 774.0,743.4 778.8,742.5 784.2,733.2 789.6,726.7 794.4,728.5 799.8,732.6 805.2,731.9 810.0,725.8 815.4,719.4 820.8,724.1 825.6,733.9 831.0,738.2 836.4,732.6 841.2,728.5 846.6,733.2 851.3,739.3 856.2,734.8 861.9,725.8 867.0,730.3 872.0,739.9 877.1,736.3 882.2,724.1 887.9,721.8 892.4,731.4 898.0,738.8 903.1,729.7 907.6,719.0 913.3,715.0 918.4,720.7 924.0,729.2 929.1,735.2 934.2,743.3 939.3,748.7 944.4,741.6 949.5,733.5 954.5,736.8 960.2,741.9 965.3,740.7 970.9,735.2 980.0,719.0 986.2,715.9 991.3,717.6 996.4,718.8 1001.4,724.1 1006.5,737.6 1011.6,750.6 1016.7,753.8 1021.8,743.9 1026.9,730.3 1036.5,707.7 1042.7,704.0 1047.8,717.3 1052.9,730.1 1058.0,730.1 1063.0,723.3 1073.2,709.2 1078.9,705.8 1084.5,705.1 1089.0,702.4 1099.5,690.4 1104.9,690.4 1110.9,700.1 1116.8,714.0 1123.8,736.9 1129.8,778.7 1135.3,824.4 1140.7,853.2 1146.1,864.2 1151.2,851.8 1155.6,824.4 1161.2,782.6 1166.6,745.9 1171.5,723.0 1176.9,717.0 1182.5,731.0 1187.4,750.8 1192.4,765.7 1197.4,768.7 1202.9,753.8 1208.3,717.0 1213.3,661.4 1218.3,613.6 1223.2,580.8 1228.6,564.9 1234.2,577.8 1239.1,612.6 1244.1,661.4 1249.1,709.1 1254.3,746.9 1259.8,776.2 1264.6,789.7 1270.1,794.3 1275.3,788.6 1280.4,765.9 1285.3,735.5 1290.7,709.4 1295.6,696.4 1301.0,686.1 1306.2,685.0 1311.3,705.1 1316.2,734.4 1321.6,755.0 1327.0,772.4 1331.9,791.4 1337.3,800.6 1342.2,797.9 1347.6,800.6 1352.5,806.2 1358.0,802.7 1363.4,785.4 1368.3,759.3 1373.1,738.7 1378.6,732.2 1383.4,733.6 1388.9,727.9 1393.8,708.9 1398.6,692.1 1404.1,685.0 1409.5,676.9 1414.0,665.0 1419.8,659.9 1425.2,667.4 1430.1,678.0 1435.0,689.4 1440.4,706.7 1445.3,725.2 1450.2,743.1 1455.6,755.5 1460.5,761.7 1465.9,762.6 1471.3,761.5 1476.8,762.6 1481.6,760.4 1485.0,756.6 1491.8,746.7 1497.2,742.8 1502.6,742.4 1507.4,742.8 1512.8,739.0 1523.0,726.1 1528.4,722.5 1533.1,721.4 1538.6,717.3 1544.0,708.5 1548.7,703.5 1554.2,706.4 1559.6,709.2 1564.3,709.4 1569.8,713.9 1574.5,721.4 1579.9,723.1 1585.4,721.1 1590.8,725.8 1595.5,734.9 1600.3,741.7 1605.7,743.1 1611.1,739.7 1616.6,737.4 1622.0,737.6 1630.8,741.3 1642.3,748.8 1647.1,748.9 1652.5,745.1 1657.3,743.5 1667.4,755.3 1672.8,752.6 1678.3,746.9 1683.7,741.7 1688.4,738.6 1693.2,738.0 1698.6,733.6 1703.4,722.0 1708.8,710.9 1714.2,708.5 1719.6,709.2 1724.4,707.1 1729.8,705.8 1734.6,709.6 1740.0,712.3 1745.4,708.9 1750.2,707.8 1755.6,709.2 1760.3,708.5 1765.8,705.5 1771.2,709.8 1775.9,720.7 1780.7,730.2 1786.9,735.3 1796.1,742.3 1801.5,748.4 1806.9,756.1 1813.0,758.1 1822.3,759.9 1827.6,758.4 1838.4,761.2 1848.4,743.8 1857.6,737.3 1864.2,730.4 1873.8,726.4 1879.9,716.9 1884.5,705.8 1889.9,703.4 1894.5,711.2 1899.9,714.1 1905.3,708.1 1910.6,712.0 1916.0,724.1 1921.1,723.5 1925.7,715.7 1931.4,720.4 1936.0,731.2 1941.4,734.6 1946.8,731.8 1951.4,733.8 1957.5,738.1 1962.9,739.6 1967.5,738.4 1972.9,734.3 1978.3,727.7 1982.9,724.3 1988.3,729.2 1992.9,736.9 1998.3,735.8 2003.6,728.9 2009.0,725.4 2013.6,727.3 2019.0,736.1 2024.4,743.8 2029.0,741.8 2034.4,735.3 2039.8,732.3 2049.8,724.6 2055.1,729.2 2060.5,736.9 2065.1,738.4 2070.5,734.6 2075.9,731.8 2081.3,732.7 2085.9,731.2 2091.3,726.9 2096.6,726.1 2105.9,727.2 2112.3,729.2" stroke="#4d4d4d" stroke-width="2" fill="none" stroke-linejoin="round"/>
<polyline points="304.5,1029.4 309.4,1030.9 317.6,1030.6 324.1,1029.7 334.1,1032.9 338.8,1033.2 349.4,1032.1 357.6,1032.9 365.8,1031.7 376.4,1033.9 387.0,1032.1 395.2,1031.4 411.7,1030.0 426.9,1031.2 436.3,1032.9 445.7,1030.8 449.3,1030.9 456.9,1032.9 469.3,1029.7 481.0,1030.9 486.9,1030.3 499.8,1032.6 509.2,1031.2 521.0,1033.9 531.5,1032.1 542.1,1033.2 552.1,1035.0 562.5,1032.6 567.9,1031.9 574.0,1032.3 586.2,1032.1 593.0,1031.2 599.1,1029.2 603.8,1029.6 609.3,1031.5 614.0,1030.5 619.4,1028.9 624.2,1028.8 633.7,1029.8 641.8,1029.2 660.8,1031.2 671.6,1033.5 681.1,1032.3 690.6,1033.0 701.5,1033.5 707.6,1034.2 712.3,1033.6 717.1,1031.2 723.2,1026.9 727.9,1025.5 732.7,1030.9 738.1,1037.3 742.8,1035.7 748.3,1028.5 753.7,1023.5 758.4,1025.1 764.6,1030.9 769.3,1033.2 774.7,1034.3 784.2,1037.0 793.7,1036.9 800.5,1038.0 805.2,1036.6 812.7,1030.5 820.2,1023.3 825.6,1022.4 831.7,1023.5 845.2,1030.2 850.0,1032.7 856.8,1036.3 861.9,1038.0 867.0,1041.4 872.4,1047.1 877.5,1044.8 882.8,1032.4 887.6,1023.9 892.9,1026.5 898.0,1029.6 903.1,1022.8 908.5,1013.7 913.9,1015.2 918.4,1025.0 923.5,1036.3 929.1,1042.6 934.2,1040.9 939.3,1035.0 944.4,1032.4 949.5,1038.0 954.9,1046.5 959.6,1046.8 965.3,1041.4 975.5,1035.0 980.5,1030.1 985.6,1027.6 990.7,1029.3 996.4,1031.3 1001.4,1030.1 1006.0,1030.3 1011.6,1033.3 1016.7,1032.7 1021.8,1025.6 1026.9,1017.7 1032.5,1014.3 1037.6,1016.0 1042.7,1018.5 1047.8,1018.0 1052.9,1012.4 1058.0,1005.3 1063.4,1002.8 1068.7,1006.4 1074.3,1012.9 1079.4,1018.3 1084.0,1021.4 1089.0,1020.9 1094.5,1014.6 1099.8,1005.4 1104.7,1001.7 1110.5,1008.5 1115.6,1021.8 1120.7,1048.4 1125.8,1085.3 1131.0,1134.5 1136.1,1178.5 1140.8,1195.9 1145.9,1178.5 1151.5,1124.2 1156.6,1058.7 1161.3,1003.4 1166.8,971.6 1171.9,977.2 1177.1,1007.5 1182.2,1045.4 1187.3,1070.6 1192.4,1065.9 1197.5,1032.1 1202.7,982.9 1208.4,933.7 1213.5,901.0 1218.4,877.4 1223.6,874.3 1228.9,893.8 1234.4,930.7 1239.5,982.9 1244.6,1034.1 1249.8,1080.2 1253.8,1110.9 1259.5,1127.1 1264.6,1124.4 1270.1,1106.5 1275.0,1081.6 1280.4,1055.5 1285.3,1036.0 1290.7,1026.6 1296.1,1023.7 1301.0,1024.1 1305.9,1027.9 1316.2,1042.5 1325.9,1052.3 1331.9,1057.7 1337.3,1059.6 1342.2,1057.7 1347.6,1049.6 1352.0,1038.2 1357.4,1018.6 1362.8,1005.6 1368.3,999.6 1373.7,1002.9 1378.6,1012.1 1383.4,1022.4 1388.9,1028.7 1393.8,1027.3 1404.1,1018.6 1409.5,1014.8 1414.9,1014.5 1419.8,1017.5 1430.1,1028.4 1439.9,1039.8 1450.2,1052.8 1456.1,1056.9 1465.9,1060.7 1471.3,1061.5 1475.7,1059.9 1483.3,1053.9 1491.8,1041.3 1497.2,1030.4 1502.6,1020.0 1507.4,1014.2 1518.2,1004.4 1523.0,1003.3 1528.4,1005.6 1535.2,1011.2 1548.7,1020.3 1554.2,1020.9 1559.6,1020.0 1569.1,1020.0 1574.5,1017.6 1579.9,1016.2 1585.4,1020.0 1589.4,1024.3 1596.2,1030.7 1601.6,1037.2 1607.7,1046.7 1611.1,1049.4 1620.6,1055.3 1626.7,1058.9 1631.5,1058.0 1641.0,1052.1 1652.5,1046.0 1657.3,1044.7 1667.4,1046.7 1673.5,1045.8 1683.7,1042.4 1688.4,1039.3 1696.6,1029.1 1707.4,1010.8 1714.2,1002.6 1719.6,998.6 1724.4,998.3 1729.1,999.6 1735.9,1004.0 1748.8,1014.8 1759.7,1023.7 1771.2,1036.9 1776.6,1040.6 1791.5,1047.3 1800.8,1048.0 1807.7,1046.8 1815.4,1044.2 1824.6,1042.7 1838.4,1036.0 1846.1,1033.1 1856.9,1027.0 1864.5,1024.7 1869.1,1025.3 1879.9,1030.8 1892.2,1030.8 1903.0,1029.9 1921.4,1031.6 1936.8,1035.3 1942.9,1034.5 1955.2,1029.3 1966.0,1026.2 1976.7,1025.3 1986.0,1027.0 1999.8,1031.9 2018.2,1033.1 2029.0,1032.4 2041.3,1033.9 2055.1,1035.0 2065.9,1029.3 2072.0,1028.1 2081.3,1028.5 2088.9,1026.2 2092.0,1026.5 2096.6,1030.4 2102.8,1033.4 2112.3,1031.9" stroke="#4d4d4d" stroke-width="2" fill="none" stroke-linejoin="round"/>
<rect x="661.7" y="354.9" width="8.1" height="150.2" fill="#ff0000"/>
<rect x="1116.1" y="354.9" width="8.3" height="150.2" fill="#00e000"/>
<rect x="1116.0" y="655.7" width="8.3" height="150.2" fill="#00e000"/>
<rect x="1110.9" y="956.6" width="8.2" height="150.2" fill="#00e000"/>
<path d="M304.5,129.5H2112.5V1558.5H304.5Z" stroke="#262626" stroke-width="2" fill="none" stroke-linejoin="round"/>
</svg></body></html>
